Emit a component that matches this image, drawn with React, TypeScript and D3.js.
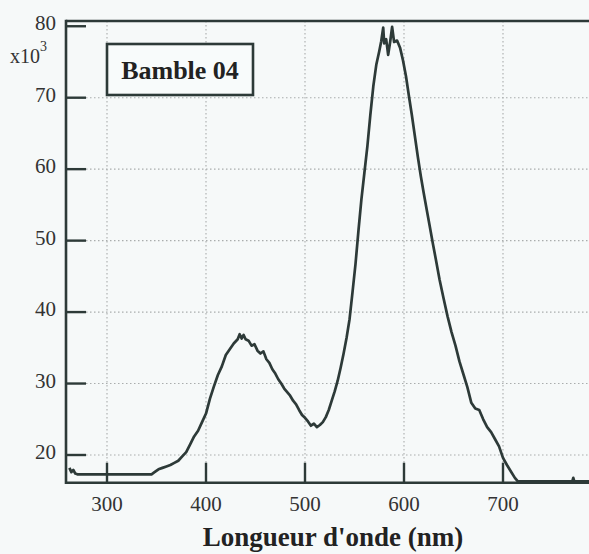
import React from "react";
import * as d3 from "d3";

const wavelengths = [
  262, 264, 266, 268, 270, 345, 348, 352, 356, 360, 364, 368, 372, 376, 380, 384, 388, 392, 396, 400,
  404, 408, 412, 416, 420, 424, 428, 432, 434, 436, 438, 440, 443, 446, 449, 452, 455, 458, 461, 464,
  467, 470, 473, 476, 479, 482, 485, 488, 491, 494, 497, 500, 503, 506, 509, 512, 515, 518, 521, 524,
  527, 530, 533, 536, 539, 542, 545, 548, 551, 554, 557, 560, 563, 566, 569, 572, 575, 577, 579, 580,
  582, 584, 586, 588, 590, 593, 596, 599, 602, 605, 608, 611, 614, 617, 620, 623, 626, 629, 632, 636,
  640, 644, 648, 652, 656, 660, 664, 668, 672, 676, 680, 684, 688, 692, 696, 700, 704, 708, 712, 715,
  770, 771, 772, 787,
];
const intensities = [
  18.2, 17.6, 17.9, 17.4, 17.3, 17.3, 17.6, 18.0, 18.2, 18.4, 18.6, 18.9, 19.2, 19.8, 20.4, 21.5, 22.6, 23.4, 24.6, 25.8,
  27.9, 29.6, 31.2, 32.4, 34.0, 34.8, 35.6, 36.2, 36.9, 36.3, 36.8, 36.2, 36.0, 35.3, 35.5, 34.6, 34.2, 34.5, 33.4, 32.9,
  32.0, 31.4, 30.6, 30.0, 29.3, 28.8, 28.3, 27.6, 27.1, 26.3, 25.6, 25.2, 24.7, 24.1, 24.4, 23.9, 24.2, 24.6, 25.3, 26.3,
  27.6, 28.9, 30.4, 32.2, 34.2, 36.4, 39.0, 42.8, 46.7, 51.4, 55.8, 59.5, 63.2, 67.6, 71.6, 74.6, 76.5, 77.9, 79.8, 77.6,
  78.2, 76.0, 77.8, 79.9, 77.8, 78.0, 77.0, 75.2, 73.0, 70.2, 67.5, 64.6, 61.7, 59.0, 56.6, 54.3, 52.0, 49.7, 47.5, 44.5,
  41.9, 39.4, 37.2, 35.3, 33.1, 31.3, 29.5, 27.3, 26.5, 26.3, 25.0, 23.9, 23.2, 22.2, 21.2, 19.6, 18.6, 17.7, 16.8, 16.3,
  16.3, 16.8, 16.3, 16.3,
];
const xTicks = [300, 400, 500, 600, 700];
const yTicks = [20, 30, 40, 50, 60, 70, 80];
const yGrid = [20, 30, 40, 50, 60, 70];
const legendLabel = "Bamble 04";
const xTitle = "Longueur d'onde (nm)";

const W = 589;
const H = 554;
const LEFT = 66;
const TOP = 21;
const BOTTOM = 482.7;
const INK = "#2d3a38";
const FONT = "'Liberation Serif', 'DejaVu Serif', serif";

export default function App() {
  const x = d3.scaleLinear().domain([300, 700]).range([107, 503]);
  const y = d3.scaleLinear().domain([20, 70]).range([455, 97.7]);
  const data = wavelengths.map((w, i) => [w, intensities[i]] as [number, number]);
  const line = d3
    .line<[number, number]>()
    .x((d) => x(d[0]))
    .y((d) => y(d[1]))
    .curve(d3.curveLinear);

  return (
    <svg
      width={W}
      height={H}
      style={{ position: "absolute", left: 0, top: 0, background: "#f6f9f9" }}
      fontFamily={FONT}
    >
      <rect x={0} y={0} width={W} height={H} fill="#f6f9f9" />
      {/* grid */}
      {xTicks.map((t) => (
        <line key={"gx" + t} x1={x(t)} x2={x(t)} y1={TOP} y2={BOTTOM} stroke="#a9adad" strokeWidth={1.1} strokeDasharray="1.5,2.5" />
      ))}
      {yGrid.map((t) => (
        <line key={"gy" + t} x1={LEFT} x2={W} y1={y(t)} y2={y(t)} stroke="#a9adad" strokeWidth={1.1} strokeDasharray="1.5,2.5" />
      ))}
      {/* curve */}
      <path d={line(data) || ""} fill="none" stroke={INK} strokeWidth={2.7} strokeLinejoin="round" />
      {/* frame */}
      <line x1={LEFT} x2={W} y1={TOP} y2={TOP} stroke={INK} strokeWidth={2.6} />
      <line x1={LEFT} x2={LEFT} y1={TOP - 1.3} y2={BOTTOM + 1.3} stroke={INK} strokeWidth={2.6} />
      <line x1={LEFT} x2={W} y1={BOTTOM} y2={BOTTOM} stroke={INK} strokeWidth={2.6} />
      {/* ticks */}
      {yTicks.map((t) => (
        <g key={"ty" + t}>
          <line x1={LEFT} x2={LEFT + 20} y1={y(t)} y2={y(t)} stroke={INK} strokeWidth={2.4} />
          <text x={56} y={y(t) - 3} textAnchor="end" dominantBaseline="central" fontSize={21} fill="#333">
            {t}
          </text>
        </g>
      ))}
      {xTicks.map((t) => (
        <g key={"tx" + t}>
          <line x1={x(t)} x2={x(t)} y1={BOTTOM} y2={BOTTOM - 20} stroke={INK} strokeWidth={2.4} />
          <text x={x(t)} y={511} textAnchor="middle" fontSize={21} fill="#333">
            {t}
          </text>
        </g>
      ))}
      {/* multiplier */}
      <text x={10} y={63} fontSize={20} fill="#333">
        x10
        <tspan fontSize={14} dy={-12}>3</tspan>
      </text>
      {/* legend box */}
      <rect x={107} y={44} width={146} height={51} fill="#f8fbfb" stroke={INK} strokeWidth={2.6} />
      <text x={180} y={79} textAnchor="middle" fontSize={26} fontWeight="bold" fill="#222">
        {legendLabel}
      </text>
      {/* x title */}
      <text x={333} y={546} textAnchor="middle" fontSize={27} fontWeight="bold" fill="#222">
        {xTitle}
      </text>
    </svg>
  );
}
